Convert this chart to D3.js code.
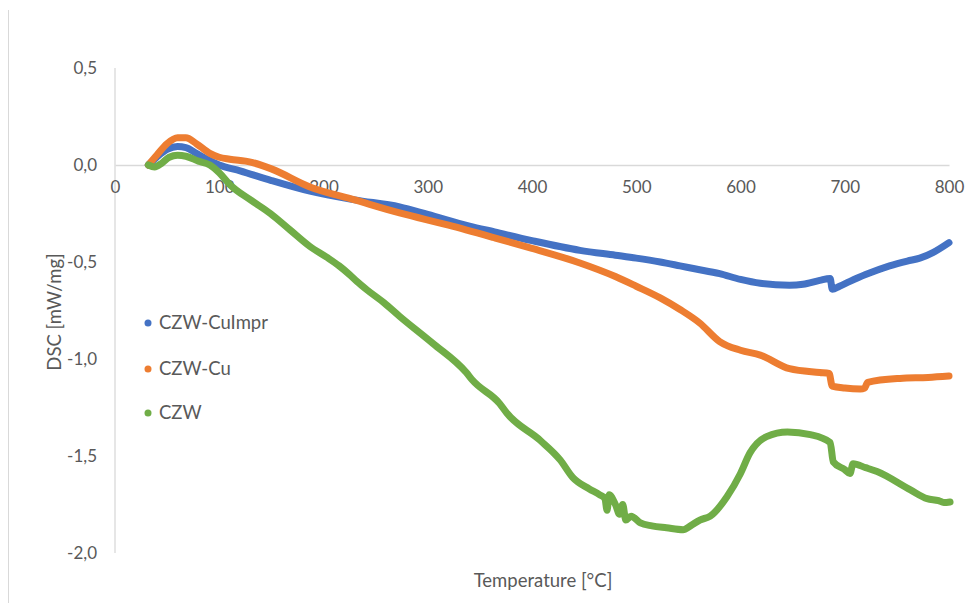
<!DOCTYPE html>
<html>
<head>
<meta charset="utf-8">
<script src="https://cdn.jsdelivr.net/npm/d3@7"></script>
<style>
  html, body { margin: 0; padding: 0; background: #fff; }
  svg { display: block; font-family: Lato, "Open Sans", sans-serif; }
</style>
</head>
<body>
<svg id="chart" width="966" height="603"></svg>
<script>
// DSC curves: temperature (°C) and heat flow (mW/mg) per sample
const seriesNames = ["CZW-CuImpr", "CZW-Cu", "CZW"];
const seriesColors = ["#4472C4", "#ED7D31", "#70AD47"];

const cuImprT = [32, 40, 50, 60, 68, 78, 88, 100, 120, 150, 187, 230, 273, 300, 340, 364, 400, 446, 480, 500, 523, 542, 556, 580, 600, 619, 647, 660, 676, 686, 688, 695, 705, 720, 743, 760, 772, 785, 800];
const cuImprV = [0.00, 0.04, 0.08, 0.095, 0.09, 0.06, 0.03, 0.0, -0.03, -0.08, -0.135, -0.18, -0.216, -0.255, -0.315, -0.345, -0.39, -0.44, -0.465, -0.48, -0.50, -0.52, -0.535, -0.56, -0.59, -0.61, -0.62, -0.615, -0.595, -0.585, -0.64, -0.625, -0.60, -0.565, -0.52, -0.495, -0.48, -0.45, -0.40];

const cuT = [32, 40, 50, 60, 68, 78, 91, 100, 110, 130, 150, 187, 230, 273, 320, 364, 400, 446, 480, 500, 523, 542, 561, 580, 600, 619, 647, 676, 685, 688, 700, 715, 719, 722, 753, 780, 800];
const cuV = [0.00, 0.05, 0.11, 0.14, 0.14, 0.11, 0.06, 0.04, 0.03, 0.015, -0.02, -0.113, -0.18, -0.247, -0.31, -0.375, -0.43, -0.505, -0.575, -0.625, -0.685, -0.745, -0.815, -0.91, -0.955, -0.98, -1.05, -1.07, -1.075, -1.14, -1.15, -1.155, -1.15, -1.12, -1.10, -1.095, -1.088];

const czwT = [32, 38, 45, 52, 60, 68, 80, 91, 100, 110, 130, 149, 168, 187, 203, 215, 225, 232, 242, 258, 273, 305, 337, 343, 369, 376, 408, 427, 439, 455, 465, 470, 472, 474, 480, 484, 487, 490, 495, 504, 515, 529, 545, 552, 561, 571, 587, 600, 609, 625, 645, 667, 686, 689, 700, 705, 708, 720, 731, 763, 779, 790, 795, 801];
const czwV = [0.00, -0.01, 0.01, 0.04, 0.05, 0.045, 0.02, 0.0, -0.04, -0.10, -0.18, -0.25, -0.335, -0.42, -0.475, -0.52, -0.565, -0.60, -0.645, -0.71, -0.78, -0.92, -1.07, -1.11, -1.23, -1.28, -1.42, -1.52, -1.61, -1.67, -1.70, -1.72, -1.78, -1.70, -1.75, -1.80, -1.75, -1.83, -1.81, -1.845, -1.86, -1.87, -1.88, -1.86, -1.83, -1.81, -1.71, -1.59, -1.485, -1.40, -1.376, -1.39, -1.43, -1.53, -1.57, -1.59, -1.54, -1.56, -1.58, -1.675, -1.72, -1.73, -1.74, -1.737];

const xTicks = [0, 100, 200, 300, 400, 500, 600, 700, 800];
const yTicks = [0.5, 0.0, -0.5, -1.0, -1.5, -2.0];

const series = [
  { name: seriesNames[0], color: seriesColors[0], t: cuImprT, v: cuImprV },
  { name: seriesNames[1], color: seriesColors[1], t: cuT, v: cuV },
  { name: seriesNames[2], color: seriesColors[2], t: czwT, v: czwV }
];

const svg = d3.select("#chart");
const textColor = "#595959";
const gridColor = "#d9d9d9";

const x = d3.scaleLinear().domain([0, 800]).range([115, 949]);
const y = d3.scaleLinear().domain([-2, 0.5]).range([553, 68]);

const fmt = d => d3.format(".1f")(d).replace(".", ",").replace("−", "-");

// outer chart-area edge on the left
svg.append("line")
  .attr("x1", 8.5).attr("x2", 8.5).attr("y1", 10).attr("y2", 603)
  .attr("stroke", gridColor).attr("stroke-width", 1);

// vertical value axis line
svg.append("line")
  .attr("x1", x(0)).attr("x2", x(0)).attr("y1", y(0.5)).attr("y2", y(-2))
  .attr("stroke", gridColor).attr("stroke-width", 1.3);

// horizontal category axis crossing at zero
const xAxis = d3.axisBottom(x).tickValues(xTicks).tickSize(0).tickPadding(16).tickFormat(d3.format("d"));
const gx = svg.append("g").attr("transform", `translate(0,${y(0)})`).call(xAxis);
gx.select(".domain").attr("stroke", gridColor).attr("stroke-width", 1.3);
gx.selectAll("text").attr("fill", textColor).style("font-size", "17px").style("font-family", "Lato, sans-serif");

// value axis labels
const yAxis = d3.axisLeft(y).tickValues(yTicks).tickSize(0).tickPadding(18).tickFormat(fmt);
const gy = svg.append("g").attr("transform", `translate(${x(0)},0)`).call(yAxis);
gy.select(".domain").remove();
gy.selectAll("text").attr("fill", textColor).style("font-size", "17px").style("font-family", "Lato, sans-serif");

// curves
const line = d3.line()
  .x(d => x(d[0]))
  .y(d => y(d[1]))
  .curve(d3.curveMonotoneX);

series.forEach(s => {
  const pts = s.t.map((t, i) => [t, s.v[i]]);
  svg.append("path")
    .datum(pts)
    .attr("d", line)
    .attr("fill", "none")
    .attr("stroke", s.color)
    .attr("stroke-width", 7)
    .attr("stroke-linejoin", "round")
    .attr("stroke-linecap", "round");
});

// legend
const legendY = [323, 369, 413];
series.forEach((s, i) => {
  svg.append("circle").attr("cx", 148).attr("cy", legendY[i]).attr("r", 3.5).attr("fill", s.color);
  svg.append("text")
    .attr("x", 159).attr("y", legendY[i]).attr("dy", "0.35em")
    .attr("fill", textColor).style("font-size", "18.5px")
    .text(s.name);
});

// axis titles
svg.append("text")
  .attr("x", 543).attr("y", 581).attr("dy", "0.35em")
  .attr("text-anchor", "middle").attr("fill", textColor).style("font-size", "18.5px")
  .text("Temperature [°C]");

svg.append("text")
  .attr("transform", "translate(55,312) rotate(-90)")
  .attr("dy", "0.35em")
  .attr("text-anchor", "middle").attr("fill", textColor).style("font-size", "18.5px")
  .text("DSC [mW/mg]");
</script>
</body>
</html>
